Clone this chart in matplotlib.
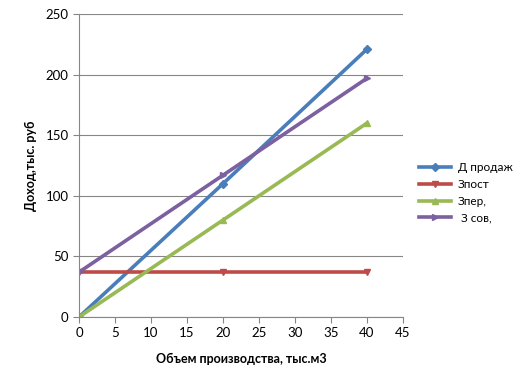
import numpy as np
import matplotlib.pyplot as plt

plt.rcParams['font.family'] = ['Lato', 'DejaVu Sans']

x = [0, 20, 40]
d_prodazh = [0, 110, 221]
z_post = [37, 37, 37]
z_per = [0, 80, 160]
z_sov = [37, 117, 197]

names = ['Д продаж', 'Зпост', 'Зпер,', ' З сов,']
colors = ['#4A7EBB', '#BE4B48', '#98B954', '#7D60A0']
markers = ['D', 'v', '^', '>']
series = [d_prodazh, z_post, z_per, z_sov]

fig = plt.figure(figsize=(5.25, 3.85), dpi=100)
ax = fig.add_axes([79/525, 1 - 317/385, (403 - 79)/525, (317 - 14)/385])

for ys, nm, c, m in zip(series, names, colors, markers):
    ax.plot(x, ys, color=c, lw=2.6, marker=m, ms=4, label=nm)

ax.set_xlim(0, 45)
ax.set_ylim(0, 250)
ax.set_xticks(np.arange(0, 46, 5))
ax.set_yticks(np.arange(0, 251, 50))
ax.yaxis.grid(True, color='#868686', lw=0.8)
ax.set_axisbelow(True)
for s in ['top', 'right']:
    ax.spines[s].set_visible(False)
for s in ['left', 'bottom']:
    ax.spines[s].set_color('#868686')
ax.tick_params(colors='#868686', labelcolor='black', labelsize=9.5, length=4)

ax.set_xlabel('Объем производства, тыс.м3', fontsize=9, fontweight='bold', labelpad=10)
ax.set_ylabel('Доход,тыс. руб', fontsize=9, fontweight='bold', labelpad=6)

ax.legend(loc='center left', bbox_to_anchor=(1.05, 0.41), frameon=False, fontsize=8.5,
          handlelength=2.7, handletextpad=0.6, labelspacing=0.5,
          borderpad=0, borderaxespad=0)

fig.savefig('out.png', dpi=100)
